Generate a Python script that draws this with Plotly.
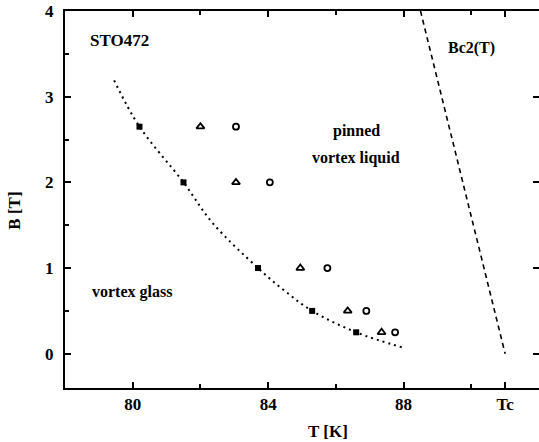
import plotly.graph_objects as go

# Vortex-glass transition points (filled squares)
T_glass = [80.2, 81.5, 83.7, 85.3, 86.6]
B_glass = [2.65, 2.0, 1.0, 0.5, 0.25]

# Triangles
T_tri = [82.0, 83.05, 84.95, 86.35, 87.35]
B_tri = [2.65, 2.0, 1.0, 0.5, 0.25]

# Circles
T_circ = [83.05, 84.05, 85.75, 86.9, 87.75]
B_circ = [2.65, 2.0, 1.0, 0.5, 0.25]

# Vortex-glass line (dotted)
T_vg = [79.45, 80.2, 81.5, 82.35, 83.7, 84.5, 85.3, 86.6, 88.0]
B_vg = [3.19, 2.65, 2.0, 1.53, 1.0, 0.73, 0.5, 0.25, 0.07]

# Upper critical field line (dashed)
T_bc2 = [88.5, 91.0]
B_bc2 = [4.0, 0.0]

x_ticks = [80, 84, 88, 91]
x_ticktext = ["<b>80</b>", "<b>84</b>", "<b>88</b>", "<b>Tc</b>"]
y_ticks = [0, 1, 2, 3, 4]
y_ticktext = ["<b>0</b>", "<b>1</b>", "<b>2</b>", "<b>3</b>", "<b>4</b>"]

FONT = "Liberation Serif"

fig = go.Figure()

fig.add_trace(go.Scatter(x=T_vg, y=B_vg, mode="lines", line_shape="spline",
                         line=dict(color="black", width=2, dash="2px,4px"),
                         hoverinfo="skip"))
fig.add_trace(go.Scatter(x=T_bc2, y=B_bc2, mode="lines",
                         line=dict(color="black", width=1.6, dash="5px,4px"),
                         hoverinfo="skip"))
fig.add_trace(go.Scatter(x=T_glass, y=B_glass, mode="markers",
                         marker=dict(symbol="square", size=6, color="black")))
fig.add_trace(go.Scatter(x=T_tri, y=B_tri, mode="markers",
                         marker=dict(symbol="triangle-up-open", size=7, color="black",
                                     line=dict(width=1.8, color="black"))))
fig.add_trace(go.Scatter(x=T_circ, y=B_circ, mode="markers",
                         marker=dict(symbol="circle-open", size=6, color="black",
                                     line=dict(width=1.8, color="black"))))
# Carrier for the right-hand tick axis
fig.add_trace(go.Scatter(x=[None], y=[None], yaxis="y2", showlegend=False,
                         hoverinfo="skip"))

labels = [
    (79.6, 3.65, "STO472", 17),
    (90.0, 3.57, "Bc2(T)", 16),
    (86.6, 2.6, "pinned", 16),
    (86.6, 2.29, "vortex liquid", 16),
    (79.97, 0.72, "vortex glass", 16),
]
for x, y, txt, sz in labels:
    fig.add_annotation(x=x, y=y, text="<b>" + txt + "</b>", showarrow=False,
                       font=dict(family=FONT, size=sz, color="black"))

fig.add_annotation(xref="paper", yref="paper", x=0.555, y=-0.145, text="<b>T [K]</b>",
                   showarrow=False, font=dict(family=FONT, size=17, color="black"))
fig.add_annotation(xref="paper", yref="paper", x=-0.13, y=0.47, text="<b>B [T]</b>",
                   textangle=-90, showarrow=False,
                   font=dict(family=FONT, size=17, color="black"))

fig.update_layout(
    width=539, height=442,
    margin=dict(l=65, r=0, t=11, b=54),
    paper_bgcolor="white", plot_bgcolor="white",
    showlegend=False,
    font=dict(family=FONT, size=17, color="black"),
    xaxis=dict(range=[78, 92], tickvals=x_ticks, ticktext=x_ticktext,
               ticks="inside", ticklen=6, tickwidth=1.5, tickcolor="black",
               minor=dict(tickvals=[82, 86, 90], ticks="inside", ticklen=4,
                          tickwidth=1.5, tickcolor="black"),
               showline=True, linecolor="black", linewidth=2, mirror="ticks",
               showgrid=False, zeroline=False),
    yaxis=dict(range=[-0.4, 4], tickvals=y_ticks, ticktext=y_ticktext,
               ticks="inside", ticklen=6, tickwidth=1.5, tickcolor="black",
               minor=dict(tickvals=[0.5, 1.5, 2.5, 3.5], ticks="inside", ticklen=4,
                          tickwidth=1.5, tickcolor="black"),
               showline=True, linecolor="black", linewidth=2, mirror=False,
               showgrid=False, zeroline=False, ticklabelstandoff=6),
    yaxis2=dict(range=[-0.4, 4], overlaying="y", side="right", tickvals=y_ticks,
                ticks="inside", ticklen=6, tickwidth=1.5, tickcolor="black",
                showticklabels=False, showline=False, showgrid=False,
                zeroline=False),
)

fig.write_html("out.html")
